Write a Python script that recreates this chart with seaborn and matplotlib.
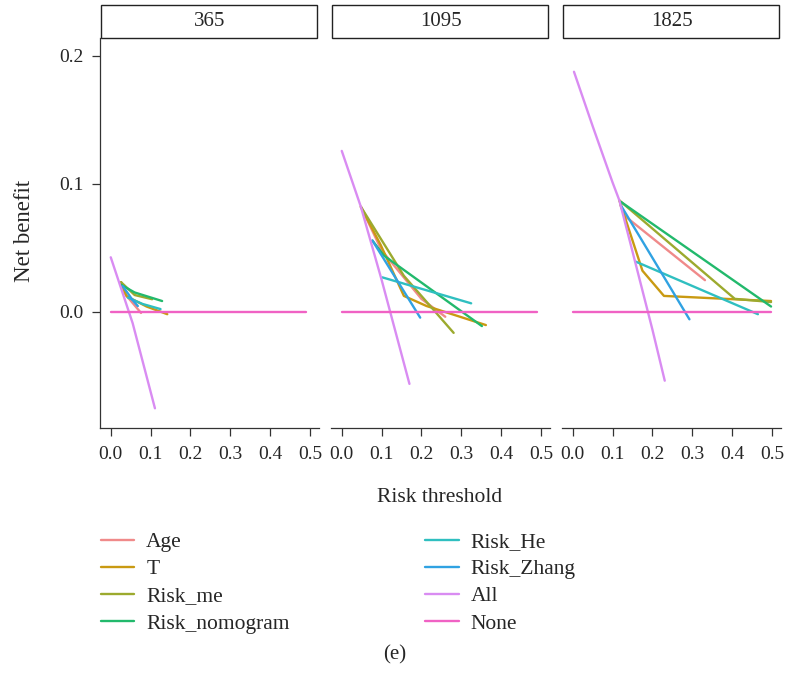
import numpy as np
import pandas as pd
import seaborn as sns
import matplotlib.pyplot as plt
from matplotlib.patches import Rectangle

# Decision curves: model -> (thresholds, net benefit)
times = ["365", "1095", "1825"]
models = ["Age", "T", "Risk_me", "Risk_nomogram", "Risk_He", "Risk_Zhang", "All", "None"]
colors = ["#F08A8A", "#C99A12", "#9CAA2E", "#22B96C", "#2FBFC0", "#30A2E2", "#D98CF2", "#F062C4"]

curves_365 = {
    "Age": ([0.026, 0.030, 0.076], [0.023, 0.016, -0.001]),
    "T": ([0.026, 0.040, 0.090, 0.142], [0.023, 0.012, 0.004, -0.002]),
    "Risk_me": ([0.026, 0.060, 0.104], [0.023, 0.013, 0.0097]),
    "Risk_nomogram": ([0.026, 0.060, 0.129], [0.021, 0.015, 0.0083]),
    "Risk_He": ([0.043, 0.080, 0.125], [0.011, 0.006, 0.002]),
    "Risk_Zhang": ([0.030, 0.055, 0.068], [0.020, 0.009, 0.0044]),
    "All": ([0.0, 0.055, 0.111], [0.0425, -0.009, -0.0756]),
    "None": ([0.0, 0.49], [0.0, 0.0]),
}
curves_1095 = {
    "Age": ([0.048, 0.100, 0.200, 0.260], [0.082, 0.048, 0.010, -0.004]),
    "T": ([0.048, 0.098, 0.156, 0.213, 0.362], [0.082, 0.052, 0.0123, 0.0044, -0.0105]),
    "Risk_me": ([0.048, 0.156, 0.281], [0.082, 0.028, -0.0166]),
    "Risk_nomogram": ([0.077, 0.106, 0.352], [0.0556, 0.0438, -0.0113]),
    "Risk_He": ([0.102, 0.325], [0.0268, 0.0065]),
    "Risk_Zhang": ([0.077, 0.197], [0.0556, -0.0047]),
    "All": ([0.0, 0.048, 0.100, 0.170], [0.1257, 0.082, 0.025, -0.0565]),
    "None": ([0.0, 0.49], [0.0, 0.0]),
}
curves_1825 = {
    "Age": ([0.120, 0.130, 0.332], [0.083, 0.075, 0.0246]),
    "T": ([0.117, 0.175, 0.229, 0.498], [0.087, 0.032, 0.0123, 0.0083]),
    "Risk_me": ([0.117, 0.407, 0.498], [0.087, 0.010, 0.0075]),
    "Risk_nomogram": ([0.121, 0.498], [0.0858, 0.004]),
    "Risk_He": ([0.159, 0.465], [0.039, -0.002]),
    "Risk_Zhang": ([0.121, 0.293], [0.083, -0.006]),
    "All": ([0.003, 0.050, 0.100, 0.117, 0.150, 0.200, 0.231],
            [0.1876, 0.145, 0.101, 0.087, 0.047, -0.014, -0.054]),
    "None": ([0.0, 0.497], [0.0, 0.0]),
}
all_curves = {"365": curves_365, "1095": curves_1095, "1825": curves_1825}

rows = []
for t in times:
    for m in models:
        xs, ys = all_curves[t][m]
        for x, y in zip(xs, ys):
            rows.append({"time": t, "model": m, "threshold": x, "nb": y})
df = pd.DataFrame(rows)

sns.set_style("white")
plt.rcParams["font.family"] = ["Liberation Serif", "DejaVu Serif"]

W, H = 787, 673
fig, axes = plt.subplots(1, 3, figsize=(W / 100, H / 100), dpi=100, sharey=True)
fig.subplots_adjust(left=100 / W, right=781 / W, bottom=1 - 428 / H, top=1 - 38 / H, wspace=0.055)

palette = dict(zip(models, colors))
handles, labels = None, None
for i, (ax, t) in enumerate(zip(axes, times)):
    sub = df[df["time"] == t]
    sns.lineplot(data=sub, x="threshold", y="nb", hue="model", hue_order=models,
                 palette=palette, estimator=None, linewidth=1.7, ax=ax, legend=(i == 0))
    if i == 0:
        handles, labels = ax.get_legend_handles_labels()
        ax.get_legend().remove()
    ax.set_xlim(-0.027, 0.523)
    ax.set_ylim(-0.091, 0.214)
    ax.set_xticks([0, 0.1, 0.2, 0.3, 0.4, 0.5])
    ax.set_xticklabels(["0.0", "0.1", "0.2", "0.3", "0.4", "0.5"])
    ax.set_yticks([0.0, 0.1, 0.2])
    ax.set_yticklabels(["0.0", "0.1", "0.2"])
    ax.set_xlabel("")
    ax.set_ylabel("")
    for s in ["top", "right"]:
        ax.spines[s].set_visible(False)
    ax.spines["bottom"].set_color("#333333")
    ax.spines["bottom"].set_linewidth(0.9)
    if i == 0:
        ax.spines["left"].set_color("#333333")
        ax.spines["left"].set_linewidth(0.9)
        ax.tick_params(axis="y", left=True, length=6, width=0.9, color="#333333",
                       labelsize=14, pad=6)
    else:
        ax.spines["left"].set_visible(False)
        ax.tick_params(axis="y", left=False, labelleft=False)
    ax.tick_params(axis="x", bottom=True, length=6, width=0.9, color="#333333",
                   labelsize=14, pad=7)
    # strip box on top of each panel
    ax.add_patch(Rectangle((0.005, 1.0), 0.985, 33 / 390, transform=ax.transAxes,
                           fill=False, edgecolor="#222222", linewidth=1.0, clip_on=False))
    ax.text(0.5, 1.0 + 16.5 / 390, t, transform=ax.transAxes, ha="center", va="center",
            fontsize=15)

fig.text(440 / W, 1 - 497 / H, "Risk threshold", ha="center", va="center", fontsize=15.5)
fig.text(25 / W, 1 - 231 / H, "Net benefit", ha="center", va="center", rotation=90, fontsize=16.5)

fig.legend(handles, labels, ncol=2, loc="upper left", bbox_to_anchor=(101 / W, 1 - 532 / H),
           frameon=False, fontsize=15.5, handlelength=1.55, handletextpad=0.55,
           columnspacing=6.3, labelspacing=0.33, borderpad=0, borderaxespad=0)

fig.text(395 / W, 1 - 655 / H, "(e)", ha="center", va="center", fontsize=15)

fig.savefig("out.png", dpi=100)
